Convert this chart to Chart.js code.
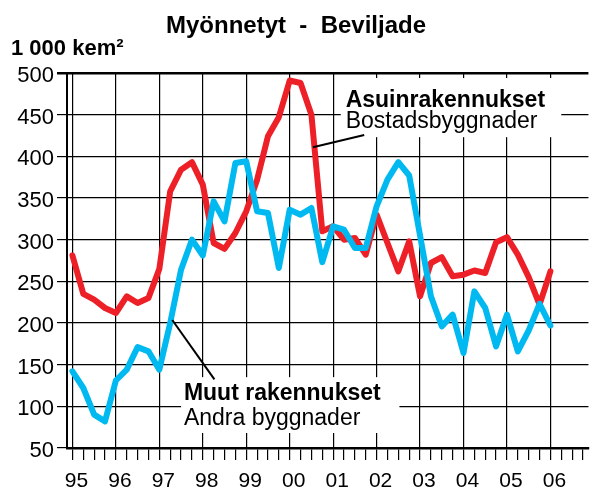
<!DOCTYPE html>
<html>
<head>
<meta charset="utf-8">
<script src="https://cdn.jsdelivr.net/npm/chart.js@4"></script>
<style>
  body { margin: 0; background: #fff; }
  canvas { display: block; }
</style>
</head>
<body>
<canvas id="chart" width="592" height="489"></canvas>
<script>
// years shown under the x axis, one per 4 quarters
const yearLabels = ['95', '96', '97', '98', '99', '00', '01', '02', '03', '04', '05', '06'];

// quarters 1995/1 .. 2006/4 (the axis runs to the end of 2006)
const quarters = [];
yearLabels.forEach(y => { for (let q = 1; q <= 4; q++) quarters.push(y + '/' + q); });

// 1 000 m3, quarterly, 1995/1 .. 2006/1
const muutRakennukset = [
  142, 122, 90, 82, 131, 144, 171, 166,
  144, 200, 264, 300, 281, 346, 322, 392,
  394, 334, 332, 266, 336, 330, 338, 273,
  316, 312, 290, 290, 340, 372, 393, 377,
  305, 232, 196, 210, 164, 238, 218, 172,
  210, 166, 191, 223, 197
];

const asuinrakennukset = [
  281, 235, 228, 218, 212, 232, 224, 230,
  265, 358, 384, 393, 366, 296, 289, 308,
  334, 372, 424, 447, 491, 488, 450, 310,
  316, 300, 302, 282, 330, 296, 262, 298,
  232, 272, 279, 256, 258, 263, 260, 297,
  303, 282, 255, 222, 262
];

const yTicks = { min: 50, max: 500, step: 50 };

const RED = '#ee2027';
const BLUE = '#00b9f0';
const FONT = '"Liberation Sans", Arial, sans-serif';

// labels with a white patch behind them, placed in data units (quarter index, value)
const notes = [
  { box: [24.7, 45.0, 494, 423], x: 25.15, bold: ['Asuinrakennukset', 459.6], normal: ['Bostadsbyggnader', 433.6],
    line: [22.14, 411, 26.86, 425.6] },
  { box: [10.0, 30.1, 135, 68], x: 10.26, bold: ['Muut rakennukset', 107.6], normal: ['Andra byggnader', 77.6],
    line: [9.19, 203.6, 13.07, 132.4] }
];

const notesPlugin = {
  id: 'notes',
  beforeDatasetsDraw(chart) {
    const { ctx, scales: { x, y } } = chart;
    ctx.save();
    ctx.fillStyle = '#fff';
    notes.forEach(n => {
      const x0 = x.getPixelForValue(n.box[0]), x1 = x.getPixelForValue(n.box[1]);
      const y0 = y.getPixelForValue(n.box[2]), y1 = y.getPixelForValue(n.box[3]);
      ctx.fillRect(x0, y0, x1 - x0, y1 - y0);
    });
    ctx.restore();
  },
  afterDatasetsDraw(chart) {
    const { ctx, scales: { x, y } } = chart;
    ctx.save();
    ctx.fillStyle = '#000';
    ctx.textAlign = 'left';
    ctx.textBaseline = 'alphabetic';
    notes.forEach(n => {
      const tx = x.getPixelForValue(n.x);
      ctx.font = 'bold 23px ' + FONT;
      ctx.fillText(n.bold[0], tx, y.getPixelForValue(n.bold[1]));
      ctx.font = '23px ' + FONT;
      ctx.fillText(n.normal[0], tx, y.getPixelForValue(n.normal[1]));
      ctx.strokeStyle = '#000';
      ctx.lineWidth = 2;
      ctx.beginPath();
      ctx.moveTo(x.getPixelForValue(n.line[0]), y.getPixelForValue(n.line[1]));
      ctx.lineTo(x.getPixelForValue(n.line[2]), y.getPixelForValue(n.line[3]));
      ctx.stroke();
    });
    // title and unit
    ctx.font = 'bold 24px ' + FONT;
    ctx.textAlign = 'center';
    ctx.fillText('Myönnetyt  -  Beviljade', chart.width / 2, 33);
    ctx.font = 'bold 22px ' + FONT;
    ctx.textAlign = 'left';
    ctx.fillText('1 000 kem²', 11, 55);
    ctx.restore();
  }
};

new Chart(document.getElementById('chart'), {
  type: 'line',
  data: {
    labels: quarters,
    datasets: [
      {
        label: 'Muut rakennukset - Andra byggnader',
        data: muutRakennukset,
        borderColor: BLUE,
        borderWidth: 6,
        pointRadius: 0,
        borderJoinStyle: 'round',
        borderCapStyle: 'round',
        fill: false,
        tension: 0
      },
      {
        label: 'Asuinrakennukset - Bostadsbyggnader',
        data: asuinrakennukset,
        borderColor: RED,
        borderWidth: 6,
        pointRadius: 0,
        borderJoinStyle: 'round',
        borderCapStyle: 'round',
        fill: false,
        tension: 0
      }
    ]
  },
  options: {
    responsive: false,
    animation: false,
    layout: { padding: { top: 73, left: 0, right: 0, bottom: 0 } },
    plugins: {
      legend: { display: false },
      tooltip: { enabled: false }
    },
    scales: {
      x: {
        type: 'category',
        offset: true,
        grid: {
          color: c => (c.index % 4 === 0 ? '#000' : 'rgba(0,0,0,0)'),
          lineWidth: 1.2,
          tickColor: '#000',
          tickWidth: 1.2,
          tickLength: 12
        },
        border: { color: '#000', width: 2.5 },
        ticks: {
          autoSkip: false,
          maxRotation: 0,
          minRotation: 0,
          color: '#000',
          font: { family: FONT, size: 21 },
          padding: 9,
          labelOffset: 4,
          callback: (v, i) => (i % 4 === 0 ? yearLabels[i / 4] : '')
        },
        afterFit: s => { s.height = 41; }
      },
      y: {
        min: yTicks.min,
        max: yTicks.max,
        grid: {
          color: '#000',
          lineWidth: c => (c.tick && c.tick.value === yTicks.max ? 2.5 : 1.2),
          tickLength: 10
        },
        border: { color: '#000', width: 2 },
        ticks: {
          stepSize: yTicks.step,
          color: '#000',
          font: { family: FONT, size: 22 },
          padding: 3,
          labelOffset: 3
        },
        afterFit: s => { s.width = 67; }
      }
    }
  },
  plugins: [notesPlugin]
});
</script>
</body>
</html>
